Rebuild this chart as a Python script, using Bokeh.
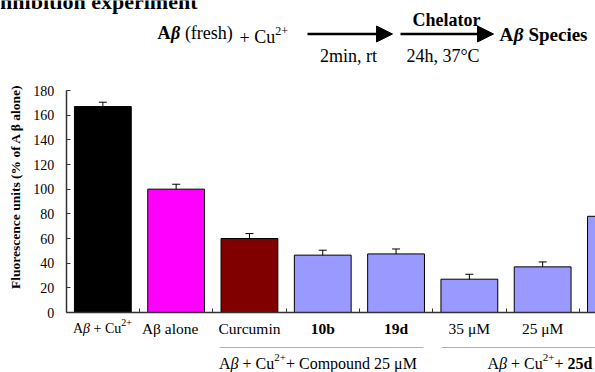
import math
from bokeh.plotting import figure
from bokeh.models import (Range1d, FixedTicker, Label, Arrow, NormalHead,
                          Whisker, TeeHead, ColumnDataSource, PolyAnnotation)
from bokeh.embed import file_html
from bokeh.resources import INLINE

# ---------------- data ----------------
cat_labels = ["Aβ alone", "Curcumin", "10b", "19d", "35 μM", "25 μM"]
fluorescence = [167, 100, 60, 46.5, 47.5, 27, 37, 78]
errors = [3.5, 4, 4, 4, 4, 4, 4, 4]
bar_colors = ["#000000", "#FF00FF", "#800000", "#9999FF",
              "#9999FF", "#9999FF", "#9999FF", "#9999FF"]
y_ticks = [0, 20, 40, 60, 80, 100, 120, 140, 160, 180]
group_left = "+ Compound 25 μM"
group_right = "25d"

# ---------------- layout ----------------
W, H = 595, 372
AX_LEFT, AX_BOTTOM, AX_TOP = 65.7, 312, 90   # pixel positions of plot box
CAT_PX = 73.3
Y_MAX = 180
YPX = (AX_BOTTOM - AX_TOP) / Y_MAX
SERIF = "Liberation Serif"


def X(px):
    return (px - AX_LEFT) / CAT_PX


def Y(py):
    return (AX_BOTTOM - py) / YPX


p = figure(width=W, height=H, output_backend="svg", toolbar_location=None,
           x_range=Range1d(X(0), X(W)), y_range=Range1d(Y(H), Y(0)),
           min_border=0)
p.outline_line_color = None
p.grid.visible = False
p.background_fill_color = "white"
p.border_fill_color = "white"

n = len(fluorescence)
xs = [i + 0.5 for i in range(n)]
src = ColumnDataSource(dict(x=xs, top=fluorescence, color=bar_colors,
                            upper=[v + e for v, e in zip(fluorescence, errors)],
                            lower=[v - e for v, e in zip(fluorescence, errors)]))
p.vbar(x="x", top="top", width=0.775, fill_color="color", line_color="black",
       line_width=1, source=src)
wh = Whisker(source=src, base="x", upper="upper", lower="lower",
             line_color="black", line_width=1,
             upper_head=TeeHead(size=8, line_color="black", line_width=1),
             lower_head=TeeHead(size=8, line_color="black", line_width=1))
p.add_layout(wh)

# axes (drawn at fixed data locations inside the canvas)
ax = p.yaxis[0]
ax.fixed_location = 0
ax.bounds = (0, Y_MAX)
ax.ticker = FixedTicker(ticks=y_ticks, minor_ticks=[])
ax.major_tick_in = 4
ax.major_tick_out = 0
ax.minor_tick_line_color = None
ax.axis_line_color = "#333333"
ax.axis_line_width = 1.5
ax.major_tick_line_color = "#333333"
ax.major_label_text_font = SERIF
ax.major_label_text_font_size = "14px"
ax.major_label_text_color = "black"
ax.major_label_standoff = 12

bx = p.xaxis[0]
bx.fixed_location = 0
bx.bounds = (0, X(W))
bx.ticker = FixedTicker(ticks=list(range(1, 8)), minor_ticks=[])
bx.major_tick_in = 4
bx.major_tick_out = 0
bx.minor_tick_line_color = None
bx.axis_line_color = "#333333"
bx.axis_line_width = 1.5
bx.major_tick_line_color = "#333333"
bx.major_label_text_color = None
bx.major_label_text_font_size = "1px"


def txt(text, px, py, size, style="normal", align="left", angle=0.0):
    p.add_layout(Label(x=X(px), y=Y(py), text=text, text_font=SERIF,
                       text_font_size=f"{size}px", text_font_style=style,
                       text_align=align, text_baseline="middle",
                       angle=angle, text_color="black"))


EM = {' ': .25, '+': .564, 'A': .722, 'C': .667, 'M': .889, 'm': .778,
      'S': .556, '(': .333, ')': .333, 'f': .333, 'r': .333, 't': .278,
      'i': .278, 'l': .278, 'e': .444, 'c': .444, 's': .389, 'β': .5}


def adv(text, size, style):
    w = sum(EM.get(ch, .5) for ch in text) * size
    return w * (1.04 if "bold" in style else 1.0)


def run(pieces, x0, ymid):
    x = x0
    for text, size, style, dy in pieces:
        lead = len(text) - len(text.lstrip())
        if text.strip():
            txt(text.strip(), x + lead * EM[' '] * size, ymid + dy, size, style)
        x += adv(text, size, style)


# y axis title
txt("Fluorescence units (% of A β alone)", 15, 186, 13.5, "bold", "center",
    math.pi / 2)

# category labels
LM = 328
run([("A", 14, "normal", 0), ("β", 14, "italic", 0),
     (" + Cu", 14, "normal", 0), ("2+", 10, "normal", -6)], 72.5, LM)
for i, lab in enumerate(cat_labels):
    c = i + 1
    style = "bold" if lab in ("10b", "19d") else "normal"
    shift = -6 if c == 1 else 0
    txt(lab, AX_LEFT + (c + 0.5) * CAT_PX + shift, LM, 15.5, style, "center")

# group underlines
UL = 347
for a, b in ((219, 423), (441, 640)):
    p.add_layout(PolyAnnotation(xs=[X(a), X(b)], ys=[Y(UL), Y(UL)],
                                line_color="black", line_width=1,
                                fill_alpha=0))

GM = 363
run([("A", 16, "normal", 0), ("β", 16, "italic", 0),
     (" + Cu", 16, "normal", 0), ("2+", 11, "normal", -6),
     (group_left, 16, "normal", 0)], 218.5, GM)
run([("A", 16, "normal", 0), ("β", 16, "italic", 0),
     (" + Cu", 16, "normal", 0), ("2+", 11, "normal", -6),
     ("+ ", 16, "normal", 0), (group_right, 16, "bold", 0)], 487, GM)

# header
txt("Inhibition experiment", 197, 1, 22, "bold", "right")
run([("A", 18, "bold", 0), ("β", 18, "bold italic", 0),
     (" (fresh)", 18, "normal", 0)], 157, 32)
run([("+", 18, "normal", 1), (" Cu", 18, "normal", 0),
     ("2+", 12, "normal", -6)], 239, 36)
for a, b in ((307, 392), (400, 493)):
    p.add_layout(Arrow(x_start=X(a), y_start=Y(33.5), x_end=X(b), y_end=Y(33.5),
                       line_color="black", line_width=2.5,
                       end=NormalHead(size=16, fill_color="black",
                                      line_color="black")))
txt("Chelator", 446, 19, 18, "bold", "center")
txt("2min, rt", 348, 55, 18, "normal", "center")
txt("24h, 37°C", 442.5, 55, 18, "normal", "center")
run([("A", 19, "bold", 0), ("β", 19, "bold italic", 0),
     (" Species", 19, "bold", 0)], 499, 34)

open("out.html", "w").write(file_html(p, INLINE))
